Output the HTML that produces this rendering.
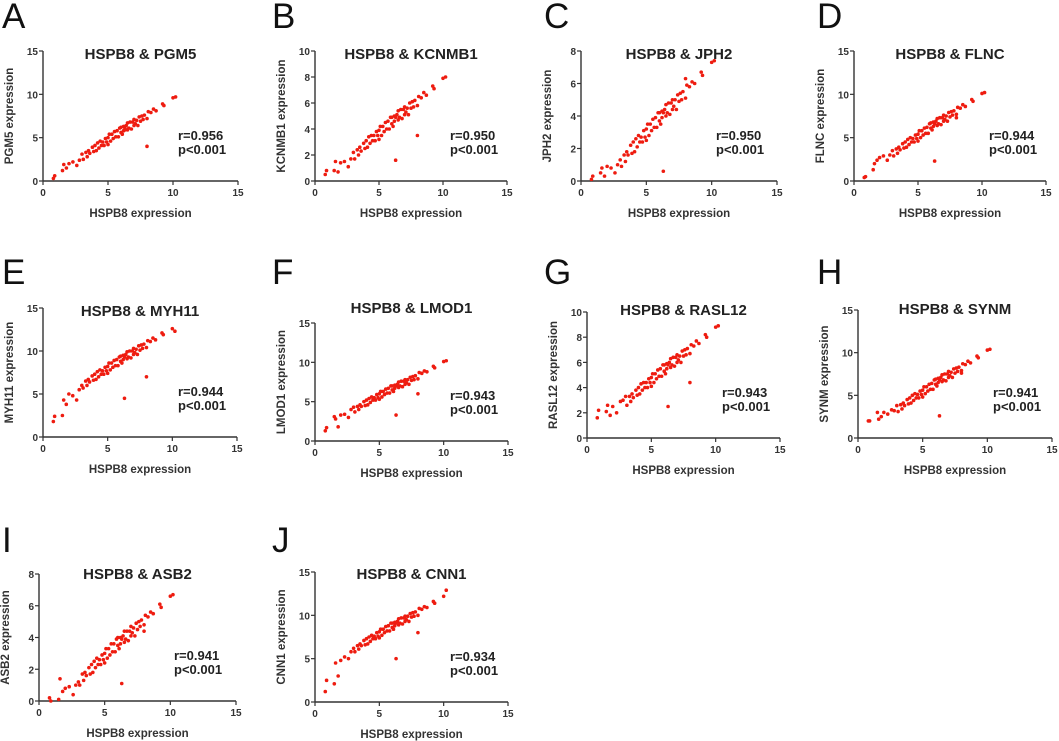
<!DOCTYPE html>
<html><head><meta charset="utf-8"><style>
html,body{margin:0;padding:0;background:#fff;}
svg{display:block;font-family:"Liberation Sans",Arial,sans-serif;}
</style></head><body>
<svg id="fig" width="1059" height="741" viewBox="0 0 1059 741"></svg>
<script>
// shared HSPB8 expression values (x)
const hspb8 = [0.8,0.9,1.5,1.6,1.8,2.0,2.3,2.6,2.8,3.0,3.1,3.3,3.4,3.5,3.6,3.8,3.9,4.0,4.1,4.2,4.3,4.4,4.5,4.6,4.7,4.8,4.9,5.0,5.0,5.1,5.2,5.3,5.4,5.5,5.6,5.7,5.8,5.9,6.0,6.0,6.1,6.2,6.2,6.3,6.4,6.5,6.5,6.6,6.7,6.8,6.9,7.0,7.0,7.1,7.2,7.3,7.4,7.5,7.6,7.7,7.8,8.0,8.1,8.3,8.5,8.7,9.2,9.3,10.0,10.2,6.3,8.0];
const pgm5 = [0.3,0.6,1.2,1.9,1.5,2.0,2.2,1.8,2.4,3.1,2.5,3.3,2.8,3.5,3.2,3.9,3.4,4.1,3.5,4.4,3.8,4.6,4.1,4.5,4.1,4.9,4.5,5.0,4.2,5.4,4.6,5.4,4.9,5.7,5.1,5.8,5.1,6.1,5.6,6.2,5.4,6.3,5.8,6.1,6.4,5.9,6.7,6.1,6.8,6.0,6.8,6.4,7.1,6.6,7.0,6.4,7.4,6.9,7.5,7.1,7.6,7.2,8.0,7.9,8.3,8.1,8.9,8.7,9.6,9.7,5.9,4.0];
const kcnmb1 = [0.5,0.8,0.8,1.5,0.7,1.4,1.5,1.1,1.7,2.2,1.7,2.4,2.0,2.6,2.3,2.9,2.5,3.1,2.6,3.4,2.9,3.5,3.1,3.5,3.1,3.8,3.5,3.9,3.2,4.2,3.5,4.2,3.8,4.5,4.0,4.6,4.0,4.9,4.4,4.9,4.2,5.0,4.6,4.9,5.1,4.7,5.4,4.9,5.5,4.8,5.5,5.1,5.7,5.3,5.6,5.1,6.0,5.6,6.1,5.7,6.2,5.8,6.5,6.4,6.8,6.6,7.3,7.1,7.9,8.0,1.6,3.5];
const jph2 = [0.1,0.3,0.5,0.8,0.3,0.9,0.8,0.5,1.0,1.3,0.9,1.6,1.2,1.8,1.6,2.2,1.7,2.4,1.8,2.6,2.1,2.8,2.4,2.7,2.4,3.1,2.7,3.2,2.5,3.5,2.8,3.5,3.1,3.8,3.3,3.9,3.3,4.2,3.7,4.2,3.5,4.3,3.9,4.2,4.4,4.0,4.7,4.2,4.8,4.1,4.8,4.4,5.0,4.6,5.0,4.4,5.3,4.9,5.4,5.0,5.5,5.1,5.9,5.8,6.1,6.0,6.7,6.5,7.3,7.4,0.6,6.3];
const flnc = [0.4,0.5,1.3,2.0,2.4,2.7,2.9,2.4,3.0,3.5,2.9,3.7,3.2,3.9,3.6,4.3,3.8,4.5,3.9,4.8,4.2,5.0,4.5,4.9,4.5,5.3,4.9,5.4,4.6,5.8,5.0,5.8,5.3,6.1,5.5,6.2,5.5,6.6,6.1,6.7,5.9,6.8,6.3,6.6,6.9,6.4,7.2,6.6,7.3,6.5,7.3,6.9,7.6,7.1,7.5,6.9,7.9,7.4,8.0,7.6,8.1,7.7,8.5,8.4,8.8,8.6,9.4,9.2,10.1,10.2,2.3,7.3];
const myh11 = [1.8,2.4,2.5,4.3,3.8,5.0,4.8,4.3,5.5,6.0,5.7,6.5,6.0,6.7,6.4,7.1,6.6,7.3,6.7,7.6,7.0,7.8,7.3,7.7,7.3,8.1,7.7,8.2,7.4,8.6,7.8,8.6,8.1,8.9,8.3,9.0,8.3,9.3,8.8,9.4,8.6,9.5,9.0,9.3,9.6,9.1,9.9,9.3,10.0,9.2,10.0,9.6,10.3,9.8,10.2,9.6,10.6,10.1,10.7,10.3,10.8,10.4,11.2,11.1,11.5,11.3,12.1,11.9,12.6,12.3,4.5,7.0];
const lmod1 = [1.3,1.7,3.1,2.8,1.8,3.3,3.4,3.0,4.0,4.3,3.7,4.4,4.0,4.6,4.4,5.0,4.5,5.2,4.6,5.4,4.9,5.6,5.2,5.5,5.2,5.9,5.5,6.0,5.3,6.3,5.6,6.3,5.9,6.6,6.1,6.7,6.1,7.0,6.5,7.0,6.3,7.1,6.7,7.0,7.2,6.8,7.5,7.0,7.6,6.9,7.6,7.2,7.8,7.4,7.8,7.2,8.1,7.7,8.2,7.8,8.3,7.9,8.7,8.6,8.9,8.8,9.5,9.3,10.1,10.2,3.3,6.0];
const rasl12 = [1.6,2.2,2.1,2.6,1.8,2.5,2.0,2.9,3.0,3.3,2.6,3.3,2.9,3.5,3.2,3.8,3.4,4.0,3.5,4.3,3.8,4.4,4.0,4.4,4.0,4.7,4.4,4.8,4.1,5.1,4.4,5.1,4.7,5.4,4.9,5.5,4.9,5.8,5.3,5.8,5.1,5.9,5.5,5.8,6.0,5.6,6.3,5.8,6.4,5.7,6.4,6.0,6.6,6.2,6.5,6.0,6.9,6.5,7.0,6.6,7.1,6.7,7.4,7.3,7.7,7.5,8.2,8.0,8.8,8.9,2.5,4.4];
const synm = [2.0,2.0,3.0,2.2,2.5,3.0,2.8,3.3,3.2,3.8,3.1,3.9,3.4,4.1,3.8,4.5,4.0,4.7,4.1,5.0,4.4,5.2,4.7,5.1,4.7,5.5,5.1,5.6,4.8,6.0,5.2,6.0,5.5,6.3,5.7,6.4,5.7,6.8,6.3,6.9,6.1,7.0,6.5,6.8,7.1,6.6,7.4,6.8,7.5,6.7,7.5,7.1,7.8,7.3,7.7,7.1,8.1,7.6,8.2,7.8,8.3,7.9,8.7,8.6,9.0,8.8,9.6,9.4,10.3,10.4,2.6,7.6];
const asb2 = [0.2,0.0,0.1,1.4,0.6,0.8,0.9,0.4,1.0,1.2,1.0,1.7,1.3,1.8,1.6,2.1,1.7,2.3,1.8,2.5,2.1,2.7,2.3,2.6,2.3,2.9,2.6,3.0,2.4,3.3,2.7,3.3,2.9,3.6,3.1,3.6,3.1,3.9,3.5,4.0,3.3,4.0,3.6,3.9,4.1,3.7,4.4,3.9,4.4,3.8,4.4,4.1,4.7,4.3,4.6,4.1,4.9,4.5,5.0,4.7,5.1,4.8,5.4,5.3,5.6,5.5,6.1,5.9,6.6,6.7,1.1,4.4];
const cnn1 = [1.2,2.5,2.1,4.5,3.0,4.8,5.2,5.0,5.8,6.2,5.8,6.5,6.1,6.7,6.5,7.1,6.6,7.3,6.7,7.5,7.0,7.7,7.3,7.6,7.3,8.0,7.6,8.1,7.4,8.4,7.7,8.4,8.0,8.7,8.2,8.8,8.2,9.1,8.6,9.1,8.4,9.2,8.8,9.1,9.3,8.9,9.6,9.1,9.7,9.0,9.7,9.3,9.9,9.5,9.9,9.3,10.2,9.8,10.3,9.9,10.4,10.0,10.8,10.7,11.0,10.9,11.6,11.4,12.2,12.9,5.0,8.0];
const genes = ["PGM5","KCNMB1","JPH2","FLNC","MYH11","LMOD1","RASL12","SYNM","ASB2","CNN1"];
const letters = ["A","B","C","D","E","F","G","H","I","J"];
const rValues = ["0.956","0.950","0.950","0.944","0.944","0.943","0.943","0.941","0.941","0.934"];
const yMaxes = [15,10,8,15,15,15,10,15,8,15];
const xTicks = [0,5,10,15];
const series = [pgm5,kcnmb1,jph2,flnc,myh11,lmod1,rasl12,synm,asb2,cnn1];

// layout: [x0, x15, yTop, yBottom, titleY, letterX, letterBaseline]
const layout = [
 [43,238,51,181,59,2,28],[315,507,51,181,59,272,28],[581,777,51,181,59,544,28],[854,1046,51,181,59,817,28],
 [43,237,308,437,316,2,284],[315,508,323,441,313,272,284],[587,780,312,438,315,544,284],[858,1052,310,438,314,817,284],
 [39,236,574,701,579,2,552],[315,508,572,702,579,272,552]
];
const NS="http://www.w3.org/2000/svg";
const svg=document.getElementById('fig');
function mk(tag,attrs,parent){const e=document.createElementNS(NS,tag);for(const k in attrs)e.setAttribute(k,attrs[k]);(parent||svg).appendChild(e);return e;}
const AX="#333";
for(let p=0;p<10;p++){
  const [x0,x15,yT,yB,tY,lx,lb]=layout[p];
  const ymax=yMaxes[p];
  const sx=v=>x0+(v/15)*(x15-x0);
  const sy=v=>yB-(v/ymax)*(yB-yT);
  const g=mk('g',{});
  
  
  const L=mk('text',{x:lx,y:lb,'font-size':35,fill:'#111'},g);L.textContent=letters[p];
  
  
  const T=mk('text',{x:(x0+x15)/2,y:tY,'font-size':15,'font-weight':'bold','text-anchor':'middle',fill:'#222'},g);
  T.textContent="HSPB8 & "+genes[p];
  
  
  const ya=mk('line',{x1:x0,y1:yT,x2:x0,y2:yB,stroke:AX,'stroke-width':1.4},g);
  
  
  const xa=mk('line',{x1:x0,y1:yB,x2:x15,y2:yB,stroke:AX,'stroke-width':1.4},g);
  
  
  for(const t of xTicks){
    mk('line',{x1:sx(t),y1:yB,x2:sx(t),y2:yB+4,stroke:AX,'stroke-width':1.2},g);
    const tt=mk('text',{x:sx(t),y:yB+15,'font-size':10,'font-weight':'bold','text-anchor':'middle',fill:'#333'},g);
    tt.textContent=t;
    
    
  }
  const step=ymax===15?5:2;
  for(let t=0;t<=ymax;t+=step){
    mk('line',{x1:x0-4,y1:sy(t),x2:x0,y2:sy(t),stroke:AX,'stroke-width':1.2},g);
    const tt=mk('text',{x:x0-5,y:sy(t)+4,'font-size':10,'font-weight':'bold','text-anchor':'end',fill:'#333'},g);
    tt.textContent=t;
    
    
  }
  const xl=mk('text',{x:(x0+x15)/2,y:yB+36,'font-size':11.5,'font-weight':'bold','text-anchor':'middle',fill:'#333'},g);
  xl.textContent="HSPB8 expression";
  
  
  const cy=(yT+yB)/2, cx=x0-30;
  const yl=mk('text',{x:cx,y:cy,'font-size':11.5,'font-weight':'bold','text-anchor':'middle',fill:'#333',transform:`rotate(-90 ${cx} ${cy})`},g);
  yl.textContent=genes[p]+" expression";
  
  
  const ys=series[p];
  for(let i=0;i<hspb8.length;i++){
    const c=mk('circle',{cx:sx(hspb8[i]),cy:sy(ys[i]),r:1.8,fill:'#ee1c10'},g);
    
    
  }
  const r=mk('text',{x:x0+135,y:yB-41,'font-size':13,'font-weight':'bold',fill:'#222'},g);
  r.textContent="r="+rValues[p];
  
  
  const pv=mk('text',{x:x0+135,y:yB-27,'font-size':13,'font-weight':'bold',fill:'#222'},g);
  pv.textContent="p<0.001";
  
  
}
</script>
</body></html>
